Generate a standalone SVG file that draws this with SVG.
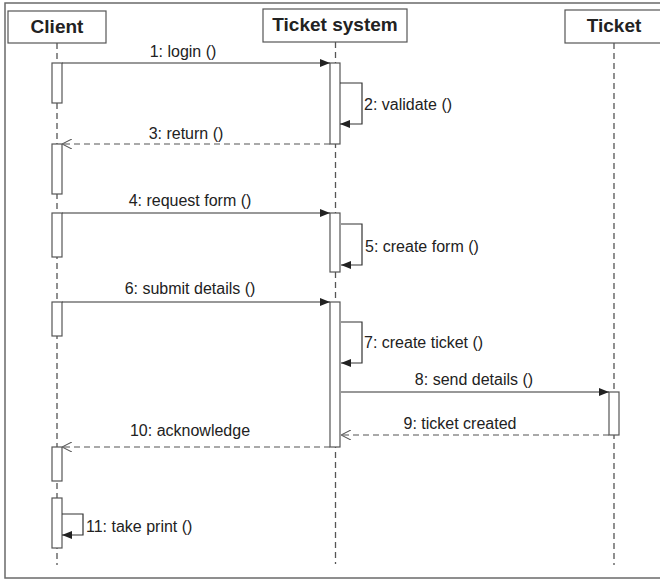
<svg xmlns="http://www.w3.org/2000/svg" width="660" height="580" viewBox="0 0 660 580">
  <style>
    .frame { fill: #ffffff; stroke: #6a6a6a; stroke-width: 1.5; }
    .head { fill: #ffffff; stroke: #555555; stroke-width: 1.2; }
    .head-text { font-family: "Liberation Sans", Arial, sans-serif; font-size: 19px; font-weight: bold; fill: #222222; text-anchor: middle; }
    .life { stroke: #555555; stroke-width: 1.3; stroke-dasharray: 6 4; fill: none; }
    .act { fill: #ffffff; stroke: #555555; stroke-width: 1.2; }
    .msg { stroke: #333333; stroke-width: 1.2; fill: none; }
    .ret { stroke: #555555; stroke-width: 1.2; stroke-dasharray: 6 4; fill: none; }
    .lbl { font-family: "Liberation Sans", Arial, sans-serif; font-size: 16px; fill: #222222; }
    .mid { text-anchor: middle; }
  </style>
  <defs>
    <marker id="solid" markerWidth="10" markerHeight="8" refX="10" refY="4" orient="auto" markerUnits="userSpaceOnUse">
      <path d="M0,0 L10,4 L0,8 Z" fill="#222222"/>
    </marker>
    <marker id="open" markerWidth="10" markerHeight="10" refX="10" refY="5" orient="auto" markerUnits="userSpaceOnUse">
      <path d="M0,0 L10,5 L0,10" fill="none" stroke="#555555" stroke-width="1.1"/>
    </marker>
  </defs>

  <rect class="frame" x="5" y="3" width="660" height="575"/>

  <!-- lifelines -->
  <g id="lifelines">
    <line class="life" x1="57" y1="43" x2="57" y2="565"/>
    <line class="life" x1="335.5" y1="42" x2="335.5" y2="564"/>
    <line class="life" x1="614" y1="43" x2="614" y2="565"/>
  </g>

  <g id="client">
    <rect class="head" x="8" y="11" width="98" height="32"/>
    <text class="head-text" x="57" y="33">Client</text>
    <rect class="act" x="52" y="63" width="10" height="40"/>
    <rect class="act" x="52" y="144" width="10" height="50"/>
    <rect class="act" x="52" y="213" width="10" height="44"/>
    <rect class="act" x="52" y="302" width="10" height="34"/>
    <rect class="act" x="52" y="447" width="10" height="34"/>
    <rect class="act" x="52" y="498" width="10" height="50"/>
  </g>

  <g id="ticket-system">
    <rect class="head" x="263" y="9" width="144" height="33"/>
    <text class="head-text" x="335" y="31">Ticket system</text>
    <rect class="act" x="330" y="63" width="10" height="81"/>
    <rect class="act" x="330" y="213" width="10" height="59"/>
    <rect class="act" x="330" y="302" width="10" height="145"/>
  </g>

  <g id="ticket">
    <rect class="head" x="565" y="10" width="100" height="33"/>
    <text class="head-text" x="614" y="32">Ticket</text>
    <rect class="act" x="609" y="392" width="10" height="43"/>
  </g>

  <g id="connectors">
    <!-- 1 -->
    <line class="msg" x1="62" y1="63" x2="330" y2="63" marker-end="url(#solid)"/>
    <text class="lbl mid" x="183" y="57">1: login ()</text>
    <!-- 2 -->
    <polyline class="msg" points="340,83 362,83 362,124 340,124" marker-end="url(#solid)"/>
    <text class="lbl" x="364" y="110">2: validate ()</text>
    <!-- 3 -->
    <line class="ret" x1="330" y1="144" x2="62" y2="144" marker-end="url(#open)"/>
    <text class="lbl mid" x="186" y="139">3: return ()</text>
    <!-- 4 -->
    <line class="msg" x1="62" y1="213" x2="330" y2="213" marker-end="url(#solid)"/>
    <text class="lbl mid" x="190" y="206">4: request form ()</text>
    <!-- 5 -->
    <polyline class="msg" points="341,224 362,224 362,265 341,265" marker-end="url(#solid)"/>
    <text class="lbl" x="365" y="252">5: create form ()</text>
    <!-- 6 -->
    <line class="msg" x1="62" y1="302" x2="330" y2="302" marker-end="url(#solid)"/>
    <text class="lbl mid" x="190" y="294">6: submit details ()</text>
    <!-- 7 -->
    <polyline class="msg" points="341,322 362,322 362,363 341,363" marker-end="url(#solid)"/>
    <text class="lbl" x="364" y="348">7: create ticket ()</text>
    <!-- 8 -->
    <line class="msg" x1="341" y1="392" x2="609" y2="392" marker-end="url(#solid)"/>
    <text class="lbl mid" x="474" y="385">8: send details ()</text>
    <!-- 9 -->
    <line class="ret" x1="609" y1="435" x2="341" y2="435" marker-end="url(#open)"/>
    <text class="lbl mid" x="460" y="429">9: ticket created</text>
    <!-- 10 -->
    <line class="ret" x1="330" y1="447" x2="62" y2="447" marker-end="url(#open)"/>
    <text class="lbl mid" x="190" y="436">10: acknowledge</text>
    <!-- 11 -->
    <polyline class="msg" points="62,514 83,514 83,535 62,535" marker-end="url(#solid)"/>
    <text class="lbl" x="86" y="532">11: take print ()</text>
  </g>
</svg>
